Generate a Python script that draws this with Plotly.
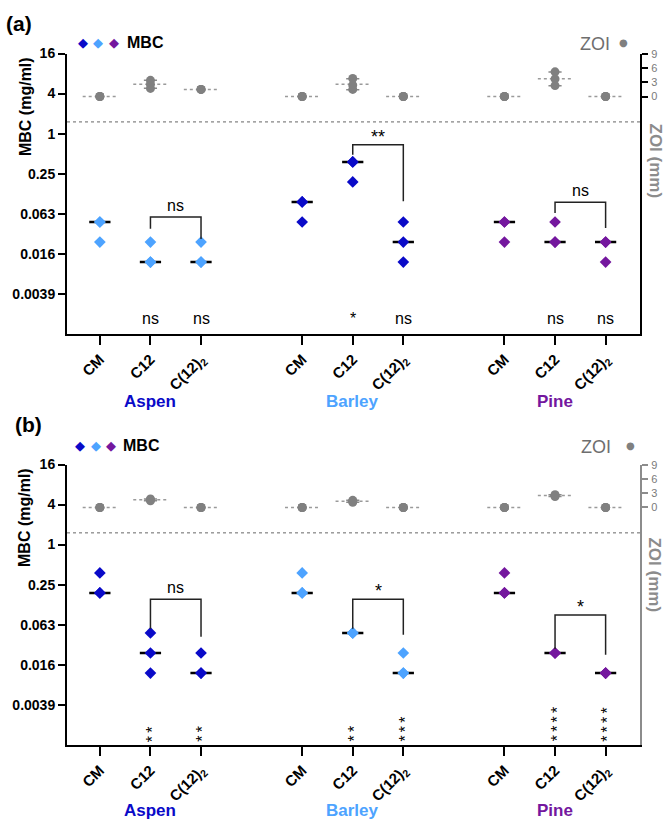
import math
import numpy as np
import plotly.graph_objects as go

# ---------------- data ----------------
plants = ["Aspen", "Barley", "Pine"]
treatments = ["CM", "C12", "C(12)<sub>2</sub>"]

# MBC (mg/ml), three replicates per treatment  [CM, C12, C(12)2]
mbc_a_aspen = [[0.0469, 0.0469, 0.0234], [0.0234, 0.0117, 0.0117], [0.0234, 0.0117, 0.0117]]
mbc_a_barley = [[0.0938, 0.0938, 0.0469], [0.375, 0.375, 0.1875], [0.0469, 0.0234, 0.0117]]
mbc_a_pine = [[0.0469, 0.0469, 0.0234], [0.0469, 0.0234, 0.0234], [0.0234, 0.0234, 0.0117]]

mbc_b_aspen = [[0.375, 0.1875, 0.1875], [0.0469, 0.0234, 0.0117], [0.0234, 0.0117, 0.0117]]
mbc_b_barley = [[0.375, 0.1875, 0.1875], [0.0469, 0.0469, 0.0469], [0.0234, 0.0117, 0.0117]]
mbc_b_pine = [[0.375, 0.1875, 0.1875], [0.0234, 0.0234, 0.0234], [0.0117, 0.0117, 0.0117]]

# ZOI (mm)
zoi_a_aspen = [[0, 0, 0], [3.4, 2.6, 1.7], [1.5, 1.5, 1.5]]
zoi_a_barley = [[0, 0, 0], [3.8, 2.4, 1.5], [0, 0, 0]]
zoi_a_pine = [[0, 0, 0], [5.2, 3.7, 2.3], [0, 0, 0]]

zoi_b_aspen = [[0, 0, 0], [1.8, 1.6, 1.4], [0, 0, 0]]
zoi_b_barley = [[0, 0, 0], [1.5, 1.3, 1.1], [0, 0, 0]]
zoi_b_pine = [[0, 0, 0], [2.7, 2.5, 2.3], [0, 0, 0]]

# significance vs CM (bottom row) and C12 vs C(12)2 (brackets)
sig_a = [["", "ns", "ns"], ["", "*", "ns"], ["", "ns", "ns"]]
sig_b = [["", "**", "**"], ["", "**", "***"], ["", "****", "****"]]
bracket_a = ["ns", "**", "ns"]
bracket_b = ["ns", "*", "*"]
# bracket levels in MBC units: [top, left leg end, right leg end]
bracket_lv_a = [[0.0556, 0.037, 0.026], [0.683, 0.483, 0.096], [0.093, 0.064, 0.038]]
bracket_lv_b = [[0.151, 0.054, 0.041], [0.151, 0.054, 0.044], [0.087, 0.027, 0.022]]

mbc_ticks = [16, 4, 1, 0.25, 0.0625, 0.015625, 0.00390625]
mbc_ticktext = ["16", "4", "1", "0.25", "0.063", "0.016", "0.0039"]
zoi_ticks = [0, 3, 6, 9]
cutoff = 1.5

# ---------------- styles ----------------
DARK = "#0a0ac8"
LIGHT = "#4da3ff"
PURPLE = "#74179e"
GREY = "#808080"
FONT = "Liberation Sans"
W, H = 666, 822

colors_a = [LIGHT, DARK, PURPLE]
colors_b = [DARK, LIGHT, PURPLE]
label_colors = [DARK, LIGHT, PURPLE]

x_range = [-0.65, 10.68]
y_range = [math.log10(2 ** -10), math.log10(2 ** 4)]
zoi_range = [-50, 9.05]


def px(x):
    return x / W


def py(y):
    return 1 - y / H


fig = go.Figure()
annotations = []

panels = [
    dict(mbc=[mbc_a_aspen, mbc_a_barley, mbc_a_pine], zoi=[zoi_a_aspen, zoi_a_barley, zoi_a_pine],
         colors=colors_a, sig=sig_a, br=bracket_a, brlv=bracket_lv_a, xa="x", ya="y", za="y2",
         top=46, bot=329, label="(a)", lab_xy=(19, 16), grp_y=397, stack=False,
         leg_y=35, mbc_leg_x=[83, 98, 114], mbc_txt_x=125, zoi_txt_x=612, zoi_dot_x=623,
         raxis="#000000", mbc_title_y=100, zoi_title_y=154),
    dict(mbc=[mbc_b_aspen, mbc_b_barley, mbc_b_pine], zoi=[zoi_b_aspen, zoi_b_barley, zoi_b_pine],
         colors=colors_b, sig=sig_b, br=bracket_b, brlv=bracket_lv_b, xa="x2", ya="y3", za="y4",
         top=461, bot=744, label="(b)", lab_xy=(29, 421), grp_y=810, stack=True,
         leg_y=442, mbc_leg_x=[80, 96, 111], mbc_txt_x=121, zoi_txt_x=613, zoi_dot_x=630,
         raxis="#8c8c8c", mbc_title_y=515, zoi_title_y=572),
]

bar_half = 0.21
mean_half = 0.34
cap_half = 0.13

for p in panels:
    xa, ya, za = p["xa"], p["ya"], p["za"]
    # cutoff dotted line
    fig.add_trace(go.Scatter(x=x_range, y=[cutoff, cutoff], mode="lines", xaxis=xa, yaxis=ya,
                             line=dict(color="#666666", width=1, dash="dot"), showlegend=False,
                             hoverinfo="skip"))
    for gi, plant in enumerate(plants):
        col = p["colors"][gi]
        for ti, tr in enumerate(treatments):
            xpos = gi * 4 + ti
            vals = p["mbc"][gi][ti]
            med = float(np.median(vals))
            # median bar
            fig.add_trace(go.Scatter(x=[xpos - bar_half, xpos + bar_half], y=[med, med], mode="lines",
                                     xaxis=xa, yaxis=ya, line=dict(color="black", width=2.5),
                                     showlegend=False, hoverinfo="skip"))
            fig.add_trace(go.Scatter(x=[xpos] * len(vals), y=vals, mode="markers", xaxis=xa, yaxis=ya,
                                     marker=dict(symbol="diamond", size=9, color=col, line=dict(width=0)),
                                     showlegend=False))
            # ZOI
            z = p["zoi"][gi][ti]
            zm = float(np.mean(z))
            zs = float(np.std(z, ddof=1))
            fig.add_trace(go.Scatter(x=[xpos - mean_half, xpos + mean_half], y=[zm, zm], mode="lines",
                                     xaxis=xa, yaxis=za, line=dict(color="#9a9a9a", width=1.5, dash="3px,3px"),
                                     showlegend=False, hoverinfo="skip"))
            if zs > 0:
                for cv in (zm - zs, zm + zs):
                    fig.add_trace(go.Scatter(x=[xpos - cap_half, xpos + cap_half], y=[cv, cv], mode="lines",
                                             xaxis=xa, yaxis=za, line=dict(color="#8a8a8a", width=1.5),
                                             showlegend=False, hoverinfo="skip"))
                fig.add_trace(go.Scatter(x=[xpos, xpos], y=[zm - zs, zm + zs], mode="lines",
                                         xaxis=xa, yaxis=za, line=dict(color="#8a8a8a", width=1.5),
                                         showlegend=False, hoverinfo="skip"))
            fig.add_trace(go.Scatter(x=[xpos] * len(z), y=z, mode="markers", xaxis=xa, yaxis=za,
                                     marker=dict(symbol="circle", size=9, color=GREY, line=dict(width=0)),
                                     showlegend=False))
            # bottom significance
            s = p["sig"][gi][ti]
            if s:
                if p["stack"] and set(s) == {"*"}:
                    # vertical column of asterisks as one rotated text
                    annotations.append(dict(x=xpos, y=y_range[0], xref=xa, yref=ya,
                                            text="\u2009".join(s), textangle=-90,
                                            showarrow=False, yanchor="bottom", xanchor="center",
                                            yshift=1, xshift=2,
                                            font=dict(family=FONT, size=16, color="black")))
                else:
                    annotations.append(dict(x=xpos, y=y_range[0], xref=xa, yref=ya, text=s,
                                            showarrow=False, yanchor="bottom", yshift=5,
                                            font=dict(family=FONT, size=16, color="black")))
        # bracket C12 vs C(12)2
        top, le, re = p["brlv"][gi]
        xl, xr = gi * 4 + 1, gi * 4 + 2
        fig.add_trace(go.Scatter(x=[xl, xl, xr, xr], y=[le, top, top, re], mode="lines",
                                 xaxis=xa, yaxis=ya, line=dict(color="#222222", width=1.5),
                                 showlegend=False, hoverinfo="skip"))
        btxt = p["br"][gi]
        annotations.append(dict(x=(xl + xr) / 2, y=math.log10(top), xref=xa, yref=ya, text=btxt,
                                showarrow=False, yanchor="bottom", yshift=1 if btxt == "ns" else -4,
                                font=dict(family=FONT, size=16 if btxt == "ns" else 18, color="black")))
        # group label
        annotations.append(dict(x=gi * 4 + 1, y=py(p["grp_y"]), xref=xa, yref="paper", text="<b>%s</b>" % plant,
                                showarrow=False, yanchor="middle",
                                font=dict(family=FONT, size=17, color=label_colors[gi])))

    # panel label
    annotations.append(dict(x=px(p["lab_xy"][0]), y=py(p["lab_xy"][1]), xref="paper", yref="paper",
                            text="<b>%s</b>" % p["label"], showarrow=False, xanchor="center", yanchor="middle",
                            font=dict(family=FONT, size=21, color="black")))
    # MBC legend
    for c, lx in zip([DARK, LIGHT, PURPLE], p["mbc_leg_x"]):
        annotations.append(dict(x=px(lx), y=py(p["leg_y"]), xref="paper", yref="paper", text="◆",
                                showarrow=False, xanchor="center", yanchor="middle",
                                font=dict(family="DejaVu Sans", size=13, color=c)))
    annotations.append(dict(x=px(p["mbc_txt_x"]), y=py(p["leg_y"]), xref="paper", yref="paper", text="<b>MBC</b>",
                            showarrow=False, xanchor="left", yanchor="middle",
                            font=dict(family=FONT, size=16, color="black")))
    annotations.append(dict(x=px(p["zoi_txt_x"]), y=py(p["leg_y"] + 1), xref="paper", yref="paper", text="ZOI",
                            showarrow=False, xanchor="right", yanchor="middle",
                            font=dict(family=FONT, size=18, color="#6e6e6e")))
    annotations.append(dict(x=px(p["zoi_dot_x"]), y=py(p["leg_y"]), xref="paper", yref="paper", text="●",
                            showarrow=False, xanchor="center", yanchor="middle",
                            font=dict(family="DejaVu Sans", size=10, color=GREY)))
    # axis titles
    annotations.append(dict(x=px(25), y=py(p["mbc_title_y"]), xref="paper", yref="paper",
                            text="<b>MBC (mg/ml)</b>", showarrow=False, textangle=-90,
                            xanchor="center", yanchor="middle", font=dict(family=FONT, size=16, color="black")))
    annotations.append(dict(x=px(655), y=py(p["zoi_title_y"]), xref="paper", yref="paper",
                            text="<b>ZOI (mm)</b>", showarrow=False, textangle=90,
                            xanchor="center", yanchor="middle", font=dict(family=FONT, size=17, color="#8c8c8c")))

tickvals_x = [gi * 4 + ti for gi in range(3) for ti in range(3)]
ticktext_x = treatments * 3

xdom = [px(67), px(640)]
common_x = dict(range=x_range, tickvals=tickvals_x, ticktext=ticktext_x, tickangle=-45,
                ticks="outside", ticklen=9, tickwidth=2, tickcolor="black", showline=True,
                linecolor="black", linewidth=2, showgrid=False, zeroline=False,
                tickfont=dict(family=FONT, size=15, color="black", weight="bold"))
common_y = dict(type="log", range=y_range, tickvals=mbc_ticks, ticktext=mbc_ticktext, ticks="outside",
                ticklen=7, tickwidth=2, tickcolor="black", showline=True, linecolor="black", linewidth=2,
                showgrid=False, zeroline=False, tickfont=dict(family=FONT, size=14, color="black", weight="bold"))


def zoi_axis(overlay, color, anchor):
    return dict(range=zoi_range, tickvals=zoi_ticks, overlaying=overlay, side="right", anchor=anchor,
                ticks="outside", ticklen=6, tickwidth=2, tickcolor=color, showline=True, linecolor=color,
                linewidth=2, showgrid=False, zeroline=False, ticklabelstandoff=1,
                tickfont=dict(family=FONT, size=11, color="#7a7a7a"))


fig.update_layout(
    width=W, height=H, margin=dict(l=0, r=0, t=0, b=0),
    paper_bgcolor="white", plot_bgcolor="white", showlegend=False,
    xaxis=dict(domain=xdom, anchor="y", **common_x),
    yaxis=dict(domain=[py(329), py(46)], anchor="x", **common_y),
    yaxis2=zoi_axis("y", "#000000", "x"),
    xaxis2=dict(domain=xdom, anchor="y3", **common_x),
    yaxis3=dict(domain=[py(744), py(461)], anchor="x2", **common_y),
    yaxis4=zoi_axis("y3", "#8c8c8c", "x2"),
    annotations=annotations,
)

fig.write_html("out.html")
